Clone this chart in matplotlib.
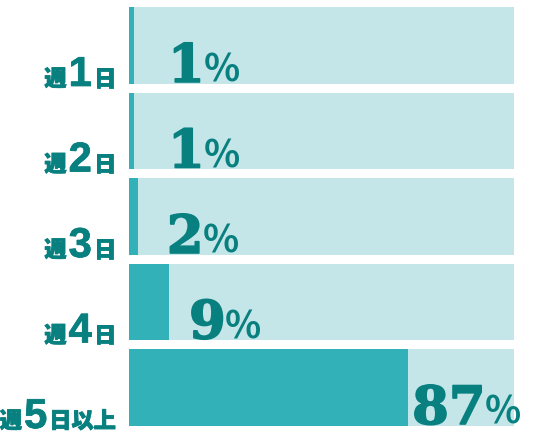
import matplotlib
matplotlib.use("Agg")
import matplotlib.pyplot as plt
import matplotlib.patheffects as pe

# data
categories = ["週1日", "週2日", "週3日", "週4日", "週5日以上"]
label_parts = [("週", "1", "日"), ("週", "2", "日"), ("週", "3", "日"),
               ("週", "4", "日"), ("週", "5", "日以上")]
percent_labels = [1, 1, 2, 9, 87]
# filled bar lengths as drawn in the picture (% of the full track)
fill_widths = [1.3, 1.3, 2.3, 10.4, 72.5]

teal = "#33b1b8"
light = "#c5e6e9"
text_col = "#08807f"
cjk = ["Noto Sans CJK JP", "DejaVu Sans"]
big_font = ["DejaVu Serif"]
small_num_font = ["Liberation Sans"]

fig = plt.figure(figsize=(5.6, 4.46), dpi=100)
ax = fig.add_axes([129 / 560, 20 / 446, 385 / 560, 419 / 446])
ypos = list(range(len(categories)))
ax.barh(ypos, [100] * len(ypos), height=0.9, color=light)
ax.barh(ypos, fill_widths, height=0.9, color=teal)
ax.set_xlim(0, 100)
ax.set_ylim(len(ypos) - 0.55, -0.45)
ax.axis("off")

renderer = fig.canvas.get_renderer()


def draw_run(pieces, x, y, align="left", gap=2):
    texts = []
    for s, size, weight, fam, stroke in pieces:
        t = fig.text(0, 0, s, transform=None, fontsize=size, fontweight=weight,
                     family=fam, color=text_col, va="baseline")
        if stroke:
            t.set_path_effects([pe.withStroke(linewidth=stroke, foreground=text_col)])
        texts.append(t)
    widths = [t.get_window_extent(renderer).width for t in texts]
    total = sum(widths) + gap * (len(texts) - 1)
    if align == "right":
        x -= total
    for t, w in zip(texts, widths):
        t.set_position((x, y))
        x += w + gap


pads = [34, 34, 29, 20, 4]
for i in ypos:
    base = ax.transData.transform((0, i + 0.45))[1]
    wk, num, tail = label_parts[i]
    draw_run([(wk, 16, "heavy", cjk, 0.6), (num, 30, "bold", small_num_font, 0.6),
              (tail, 16, "heavy", cjk, 0.6)],
             116, base - 2, align="right", gap=2)
    x_end = ax.transData.transform((fill_widths[i], 0))[0]
    draw_run([(str(percent_labels[i]), 38, "bold", big_font, 1.2),
              ("%", 27, "bold", cjk, 0)],
             x_end + pads[i], base + 2, gap=-1)

fig.savefig("out.png", dpi=100)
